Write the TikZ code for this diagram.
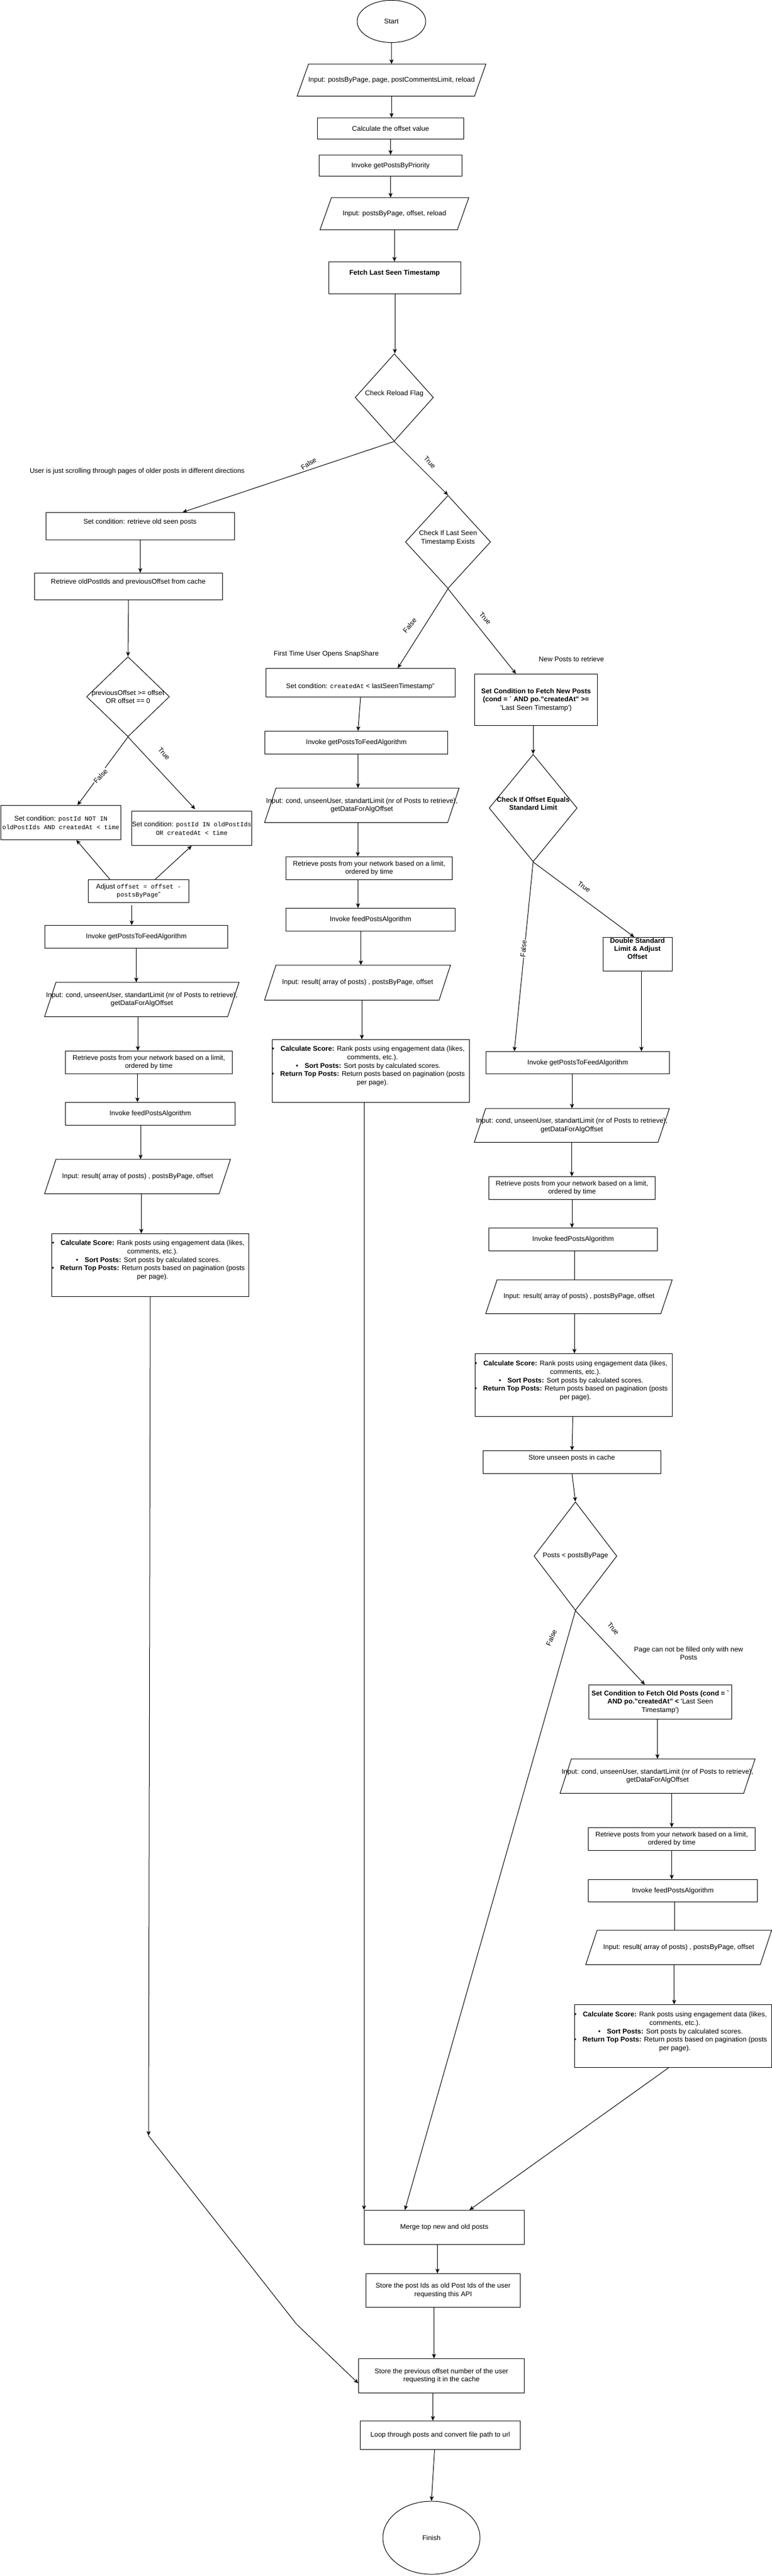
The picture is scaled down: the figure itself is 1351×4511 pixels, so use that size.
\documentclass[tikz,border=0pt]{standalone}
\usepackage{fontspec}
\setmainfont{Liberation Sans}
\setmonofont{Liberation Mono}
\usetikzlibrary{shapes.geometric,arrows.meta,calc}

\newcommand\mono[1]{{\fontsize{11}{14.5}\selectfont\ttfamily #1}}
\newcommand\calclines{%
\llap{\textbullet\hspace{11pt}}\textbf{Calculate Score:} Rank posts using engagement data (likes,\\
comments, etc.).\\
\llap{\textbullet\hspace{11pt}}\textbf{Sort Posts:} Sort posts by calculated scores.\\
\llap{\textbullet\hspace{11pt}}\textbf{Return Top Posts:} Return posts based on pagination (posts\\
per page).}

\tikzset{
 every node/.style={font=\fontsize{12}{14.5}\selectfont, text=black},
 box/.style={draw, line width=1pt, rectangle, inner sep=0pt, align=center},
 txt/.style={inner sep=0pt, align=center},
 dia/.style={draw, line width=1pt, diamond, inner sep=0pt},
 ell/.style={draw, line width=1pt, ellipse, inner sep=0pt},
 arr/.style={line width=1pt, -{Stealth[length=8pt,width=7pt,inset=2pt]}},
 plainline/.style={line width=1pt},
 lbl/.style={inner sep=1pt, fill=white},
 lblo/.style={inner sep=1pt},
}

\newcommand\flowbox[6]{\node[box, minimum width=#4, minimum height=#5, anchor=north west] (#1) at (#2,#3) {#6};}
\newcommand\iobox[6]{\node[txt, minimum width=#4, minimum height=#5, anchor=north west] (#1) at (#2,#3) {#6};
\draw[line width=1pt] (#1.south west) -- ([xshift=20pt]#1.north west) -- (#1.north east) -- ([xshift=-20pt]#1.south east) -- cycle;}

\begin{document}
\begin{tikzpicture}[x=1pt,y=-1pt]
\useasboundingbox (0,0) rectangle (1351,4511);
\fill[white] (0,0) rectangle (1351,4511);

% ---------- top ----------
\node[ell, minimum width=120, minimum height=74] (start) at (685,37.5) {Start};
\iobox{in1}{520}{112}{330}{56}{Input: postsByPage, page, postCommentsLimit, reload}
\flowbox{calcoff}{555}{206}{256}{37}{Calculate the offset value}
\flowbox{invprio}{558}{271}{250}{37}{Invoke getPostsByPriority}
\iobox{in2}{560}{346}{260}{56}{Input: postsByPage, offset, reload}
\flowbox{fetch}{575}{458}{231}{56}{}
\node[txt] (fetcht) at (690.5,478) {\textbf{Fetch Last Seen Timestamp}};
\node[dia, minimum width=137, minimum height=153] (d1) at (690,696) {};
\node[txt] (d1t) at (690,689) {Check Reload Flag};

% ---------- left branch ----------
\node[txt] (note1) at (240,825) {User is just scrolling through pages of older posts in different directions};
\flowbox{setold}{80}{897}{330}{48}{}
\node[txt] (setoldt) at (245,914) {Set condition: retrieve old seen posts};
\flowbox{retr}{60}{1003}{329}{47}{}
\node[txt] (retrt) at (224.5,1019) {Retrieve oldPostIds and previousOffset from cache};
\node[dia, minimum width=145, minimum height=140] (d3) at (224,1220) {};
\node[txt] (d3t) at (224,1220) {previousOffset >= offset\\OR offset == 0};
\flowbox{notin}{1}{1410}{210}{60}{Set condition: \mono{postId NOT IN}\\\mono{oldPostIds AND createdAt < time}}
\flowbox{inbox}{230}{1420}{210}{60}{Set condition: \mono{postId IN oldPostIds}\\\mono{OR createdAt < time}}
\flowbox{adjust}{154}{1540}{176}{40}{Adjust \mono{offset = offset -}\\\mono{postsByPage}"}
\flowbox{Linv}{78}{1620}{320}{40}{Invoke getPostsToFeedAlgorithm}
\iobox{Lin}{78}{1720}{340}{60}{Input: cond, unseenUser, standartLimit (nr of Posts to retrieve),\\getDataForAlgOffset}
\flowbox{Lret}{114}{1840}{292}{40}{Retrieve posts from your network based on a limit,\\ordered by time}
\flowbox{Lfeed}{114}{1930}{297}{40}{Invoke feedPostsAlgorithm}
\iobox{Lres}{78}{2030}{325}{60}{Input: result( array of posts) , postsByPage, offset}
\flowbox{Lcalc}{90}{2160}{345}{110}{}
\node[txt, font=\fontsize{12}{14.7}\selectfont] (Lcalct) at (267,2207) {\calclines};

% ---------- middle branch ----------
\node[dia, minimum width=149, minimum height=163] (d2) at (784,949) {};
\node[txt] (d2t) at (784,942) {Check If Last Seen\\Timestamp Exists};
\node[txt] (note2) at (571,1145) {First Time User Opens SnapShare};
\flowbox{Mset}{465}{1170}{331}{50}{}
\node[txt] (Msett) at (630.5,1202) {Set condition: \mono{createdAt} < lastSeenTimestamp"};
\flowbox{Minv}{463}{1280}{320}{40}{Invoke getPostsToFeedAlgorithm}
\iobox{Min}{463}{1380}{340}{60}{Input: cond, unseenUser, standartLimit (nr of Posts to retrieve),\\getDataForAlgOffset}
\flowbox{Mret}{500}{1500}{291}{40}{Retrieve posts from your network based on a limit,\\ordered by time}
\flowbox{Mfeed}{500}{1590}{296}{40}{Invoke feedPostsAlgorithm}
\iobox{Mres}{463}{1690}{325}{61}{Input: result( array of posts) , postsByPage, offset}
\flowbox{Mcalc}{476}{1820}{345}{110}{}
\node[txt, font=\fontsize{12}{14.7}\selectfont] (Mcalct) at (652,1867) {\calclines};

% ---------- right branch ----------
\node[txt] (note3) at (1000,1154) {New Posts to retrieve};
\flowbox{Rset}{830}{1180}{215}{90}{\textbf{Set Condition to Fetch New Posts}\\\textbf{(cond = \textasciigrave{} AND po."createdAt" >=}\\\textquotesingle Last Seen Timestamp\textquotesingle)}
\node[dia, minimum width=154, minimum height=188] (d4) at (933,1415) {};
\node[txt] (d4t) at (933,1407) {\textbf{Check If Offset Equals}\\\textbf{Standard Limit}};
\flowbox{dbl}{1055}{1641}{121}{59}{}
\node[txt, anchor=north, font=\fontsize{12}{14}\selectfont] (dblt) at (1115.5,1643) {\textbf{Double Standard}\\\textbf{Limit \& Adjust}\\\textbf{Offset}};
\flowbox{Rinv}{850}{1841}{321}{39}{Invoke getPostsToFeedAlgorithm}
\iobox{Rin}{830}{1941}{341}{59}{Input: cond, unseenUser, standartLimit (nr of Posts to retrieve),\\getDataForAlgOffset}
\flowbox{Rret}{855}{2060}{291}{40}{Retrieve posts from your network based on a limit,\\ordered by time}
\flowbox{Rfeed}{855}{2150}{295}{40}{Invoke feedPostsAlgorithm}
\iobox{Rres}{850}{2241}{326}{59}{Input: result( array of posts) , postsByPage, offset}
\flowbox{Rcalc}{831}{2370}{345}{110}{}
\node[txt, font=\fontsize{12}{14.7}\selectfont] (Rcalct) at (1007,2418) {\calclines};
\flowbox{Rstore}{845}{2540}{311}{40}{}
\node[txt] (Rstoret) at (1000.5,2553) {Store unseen posts in cache};
\node[dia, minimum width=145, minimum height=190] (d5) at (1007,2725) {};
\node[txt] (d5t) at (1007,2725) {Posts < postsByPage};
\node[txt] (note4) at (1205,2895) {Page can not be filled only with new\\Posts};
\flowbox{Rold}{1030}{2950}{250}{60}{\textbf{Set Condition to Fetch Old Posts (cond = \textasciigrave}\\\textbf{AND po."createdAt" <} \textquotesingle Last Seen\\Timestamp\textquotesingle)}
\iobox{R2in}{980}{3080}{341}{60}{Input: cond, unseenUser, standartLimit (nr of Posts to retrieve),\\getDataForAlgOffset}
\flowbox{R2ret}{1029}{3200}{292}{40}{Retrieve posts from your network based on a limit,\\ordered by time}
\flowbox{R2feed}{1029}{3291}{296}{39}{Invoke feedPostsAlgorithm}
\iobox{R2res}{1025}{3380}{325}{60}{Input: result( array of posts) , postsByPage, offset}
\flowbox{R2calc}{1005}{3510}{345}{110}{}
\node[txt, font=\fontsize{12}{14.7}\selectfont] (R2calct) at (1181,3558) {\calclines};

% ---------- bottom ----------
\flowbox{merge}{637}{3870}{280}{60}{Merge top new and old posts}
\flowbox{storeids}{640}{3981}{270}{59}{Store the post Ids as old Post Ids of the user\\requesting this API}
\flowbox{storeoff}{627}{4130}{290}{60}{Store the previous offset number of the user\\requesting it in the cache}
\flowbox{loop}{630}{4239}{280}{50}{Loop through posts and convert file path to url}
\node[ell, minimum width=170, minimum height=128] (finish) at (755,4444) {Finish};
\coordinate (wp) at (260,3740);
\coordinate (bend) at (519,4070);

% ---------- connectors: top ----------
\draw[arr] (start.south) -- (in1.north);
\draw[arr] (in1.south) -- (in1.south |- calcoff.north);
\draw[arr] (calcoff.south) -- (calcoff.south |- invprio.north);
\draw[arr] (invprio.south) -- (invprio.south |- in2.north);
\draw[arr] (in2.south) -- (in2.south |- fetch.north);
\draw[arr] (fetch.south) -- (fetch.south |- d1.north);
\draw[arr] (d1.south) -- ([xshift=74pt]setold.north);
\draw[arr] (d1.south) -- (d2.north);

% left
\draw[arr] (setold.south) -- (setold.south |- retr.north);
\draw[arr] (retr.south) -- (d3.north);
\draw[arr] (d3.south) -- ([xshift=29pt]notin.north);
\draw[arr] (d3.south) -- ([xshift=6pt,yshift=3pt]inbox.north);
\draw[arr] ([xshift=-50pt]adjust.north) -- ([xshift=27pt]notin.south);
\draw[arr] ([xshift=29pt]adjust.north) -- (inbox.south);
\draw[arr] ([xshift=-12pt,yshift=-4pt]adjust.south) -- ([xshift=-12pt]adjust.south |- Linv.north);
\draw[arr] (Linv.south) -- (Linv.south |- Lin.north);
\draw[arr] ([xshift=-7pt]Lin.south) -- ([xshift=-7pt]Lin.south |- Lret.north);
\draw[arr] ([xshift=-20pt]Lret.south) -- ([xshift=-20pt]Lret.south |- Lfeed.north);
\draw[arr] ([xshift=-17pt]Lfeed.south) -- ([xshift=-17pt]Lfeed.south |- Lres.north);
\draw[arr] ([xshift=6.5pt]Lres.south) -- ([xshift=6.5pt]Lres.south |- Lcalc.north);
\draw[arr] (Lcalc.south) -- (wp);
\draw[arr] (wp) -- (bend) -- ([yshift=-13pt]storeoff.west);

% middle
\draw[arr] (d2.south) -- ([xshift=65pt]Mset.north);
\draw[arr] (Mset.south) -- ([xshift=3pt]Minv.north);
\draw[arr] ([xshift=3pt]Minv.south) -- ([xshift=3pt]Minv.south |- Min.north);
\draw[arr] ([xshift=-7pt]Min.south) -- ([xshift=-7pt]Min.south |- Mret.north);
\draw[arr] ([xshift=-19.5pt]Mret.south) -- ([xshift=-19.5pt]Mret.south |- Mfeed.north);
\draw[arr] ([xshift=-17pt]Mfeed.south) -- ([xshift=-17pt]Mfeed.south |- Mres.north);
\draw[arr] ([xshift=7.5pt]Mres.south) -- ([xshift=7.5pt]Mres.south |- Mcalc.north);
\draw[arr] (Mcalc.south -| merge.north west) -- (merge.north west);

% right
\draw[arr] (d2.south) -- ([xshift=-35pt]Rset.north);
\draw[arr] ([xshift=-5pt]Rset.south) -- (d4.north);
\draw[arr] (d4.south) -- ([xshift=-6pt]dbl.north);
\draw[arr] (d4.south) -- ([xshift=-111pt]Rinv.north);
\draw[arr] ([xshift=6.5pt]dbl.south) -- ([xshift=6.5pt]dbl.south |- Rinv.north);
\draw[arr] ([xshift=-10pt]Rinv.south) -- ([xshift=-10pt]Rinv.south |- Rin.north);
\draw[arr] (Rin.south) -- (Rin.south |- Rret.north);
\draw[arr] (Rret.south) -- (Rret.south |- Rfeed.north);
\draw[plainline] ([xshift=2.5pt]Rfeed.south) -- ([xshift=2.5pt]Rfeed.south |- Rres.north);
\draw[arr] ([xshift=-8pt]Rres.south) -- ([xshift=-8pt]Rres.south |- Rcalc.north);
\draw[arr] ([xshift=-1.5pt]Rcalc.south) -- (Rstore.north);
\draw[arr] (Rstore.south) -- (d5.north);
\draw[arr] (d5.south) -- ([xshift=-27pt]Rold.north);
\draw[arr] (d5.south) -- ([xshift=-69pt]merge.north);
\draw[arr] ([xshift=-5pt]Rold.south) -- ([xshift=-5pt]Rold.south |- R2in.north);
\draw[arr] (R2in.south -| R2ret.north) -- (R2ret.north);
\draw[arr] (R2ret.south) -- (R2ret.south |- R2feed.north);
\draw[plainline] ([xshift=3pt]R2feed.south) -- ([xshift=3pt]R2feed.south |- R2res.north);
\draw[arr] ([xshift=-8pt]R2res.south) -- ([xshift=-8pt]R2res.south |- R2calc.north);
\draw[arr] ([xshift=-8pt]R2calc.south) -- ([xshift=44pt]merge.north);

% bottom
\draw[arr] ([xshift=-12pt]merge.south) -- ([xshift=-12pt]merge.south |- storeids.north);
\draw[arr] ([xshift=-16pt]storeids.south) -- ([xshift=-16pt]storeids.south |- storeoff.north);
\draw[arr] ([xshift=-15pt]storeoff.south) -- ([xshift=-15pt]storeoff.south |- loop.north);
\draw[arr] ([xshift=-10pt]loop.south) -- (finish.north);

% ---------- edge labels ----------
\node[lbl, rotate=33] (l1) at (540,812) {False};
\node[lblo, rotate=-47] (l2) at (752,810) {True};
\node[lbl, rotate=47] (l3) at (176,1359) {False};
\node[lblo, rotate=-48] (l4) at (287,1320) {True};
\node[lblo, rotate=50] (l5) at (717,1095) {False};
\node[lblo, rotate=-48] (l6) at (849,1083) {True};
\node[lblo, rotate=-35] (l7) at (1022,1553) {True};
\node[lbl, rotate=85] (l8) at (916,1661) {False};
\node[lblo, rotate=-50] (l9) at (1073,2852) {True};
\node[lblo, rotate=66] (l10) at (965,2868) {False};
\end{tikzpicture}
\end{document}
